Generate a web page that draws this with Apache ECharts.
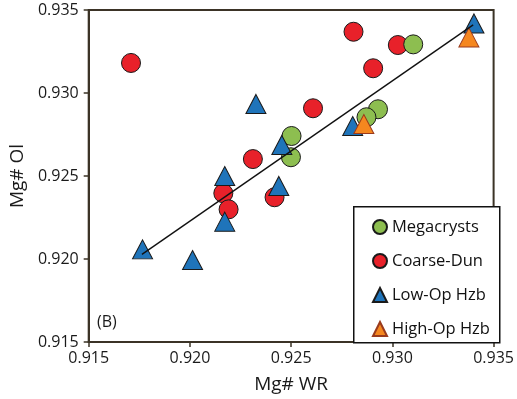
<!DOCTYPE html>
<html><head><meta charset="utf-8">
<script src="https://cdn.jsdelivr.net/npm/echarts@6/dist/echarts.min.js"></script>
<style>html,body{margin:0;padding:0;background:#fff}#c{width:517px;height:399px}</style>
</head><body><div id="c"></div>
<script>
const xTicks = [0.915, 0.920, 0.925, 0.930, 0.935];
const yTicks = [0.915, 0.920, 0.925, 0.930, 0.935];

const megX = [0.93103, 0.92929, 0.92872, 0.92502, 0.92499];
const megY = [0.93293, 0.92902, 0.92854, 0.92741, 0.92613];

const dunX = [0.91709, 0.92808, 0.93027, 0.92905, 0.92608, 0.92311, 0.92165, 0.92191, 0.92418];
const dunY = [0.93181, 0.93369, 0.93289, 0.93149, 0.92908, 0.92602, 0.92396, 0.92299, 0.92372];

const lowX = [0.93403, 0.92804, 0.92454, 0.92326, 0.92172, 0.92172, 0.92439, 0.91766, 0.92013];
const lowY = [0.93419, 0.92801, 0.92687, 0.92934, 0.92500, 0.92225, 0.92440, 0.92058, 0.91994];

const highX = [0.93378, 0.92859];
const highY = [0.93335, 0.92813];

const fitX = [0.91763, 0.93399];
const fitY = [0.92028, 0.93410];

const names = ['Megacrysts', 'Coarse-Dun', 'Low-Op Hzb', 'High-Op Hzb'];

const zip = (a, b) => a.map((v, i) => [v, b[i]]);
const FONT = 'Open Sans';
const frame = '#3b3326';

const chart = echarts.init(document.getElementById('c'), null, {renderer: 'canvas'});
chart.setOption({
  animation: false,
  backgroundColor: '#fff',
  textStyle: {fontFamily: FONT},
  grid: {left: 88, right: 18, top: 10, bottom: 57, show: true, borderColor: frame, borderWidth: 2, backgroundColor: 'transparent'},
  xAxis: {
    type: 'value', min: xTicks[0], max: xTicks[xTicks.length - 1], interval: 0.005,
    name: 'Mg# WR', nameLocation: 'middle', nameGap: 33,
    nameTextStyle: {fontFamily: FONT, fontSize: 19, color: '#1a1a1a'},
    axisLine: {lineStyle: {color: frame, width: 2}},
    axisTick: {show: true, length: 5, lineStyle: {color: frame, width: 1.5}},
    axisLabel: {fontFamily: FONT, fontSize: 16, color: '#1a1a1a', margin: 8, formatter: v => v.toFixed(3)},
    splitLine: {show: false}
  },
  yAxis: {
    type: 'value', min: yTicks[0], max: yTicks[yTicks.length - 1], interval: 0.005,
    name: 'Mg# Ol', nameLocation: 'middle', nameGap: 56, nameRotate: 90,
    nameTextStyle: {fontFamily: FONT, fontSize: 19, color: '#1a1a1a'},
    axisLine: {lineStyle: {color: frame, width: 2}},
    axisTick: {show: true, length: 5, lineStyle: {color: frame, width: 1.5}},
    axisLabel: {fontFamily: FONT, fontSize: 16, color: '#1a1a1a', margin: 10, formatter: v => v.toFixed(3)},
    splitLine: {show: false}
  },
  legend: {
    data: names,
    orient: 'vertical', left: 367, top: 211,
    itemWidth: 14, itemHeight: 14, itemGap: 12,
    textStyle: {fontFamily: FONT, fontSize: 16.5, color: '#111', lineHeight: 22},
    z: 10
  },
  graphic: [
    {type: 'rect', left: 353, top: 206, shape: {width: 146, height: 136}, style: {fill: '#fff', stroke: '#111', lineWidth: 1.5}, z: 5},
    {type: 'text', left: 97, top: 314, style: {text: '(B)', font: '16px "Open Sans"', fill: '#1a1a1a'}, z: 5}
  ],
  series: [
    {name: 'Coarse-Dun', type: 'scatter', data: zip(dunX, dunY), symbol: 'circle', symbolSize: 19,
      itemStyle: {color: '#e8212a', borderColor: '#1a1a1a', borderWidth: 1, opacity: 1}, z: 2},
    {name: 'Megacrysts', type: 'scatter', data: zip(megX, megY), symbol: 'circle', symbolSize: 19,
      itemStyle: {color: '#8dbe50', borderColor: '#1a1a1a', borderWidth: 1, opacity: 1}, z: 3},
    {name: 'Low-Op Hzb', type: 'scatter', data: zip(lowX, lowY), symbol: 'triangle', symbolSize: [20, 19],
      itemStyle: {color: '#1f74ba', borderColor: '#1a1a1a', borderWidth: 1, opacity: 1}, z: 4},
    {name: 'High-Op Hzb', type: 'scatter', data: zip(highX, highY), symbol: 'triangle', symbolSize: [20, 19],
      itemStyle: {color: '#f5871f', borderColor: '#9a3a1c', borderWidth: 1, opacity: 1}, z: 5},
    {name: 'fit', type: 'line', data: zip(fitX, fitY), showSymbol: false, symbol: 'none',
      lineStyle: {color: '#111', width: 1.4}, z: 6, silent: true}
  ]
});
</script></body></html>
